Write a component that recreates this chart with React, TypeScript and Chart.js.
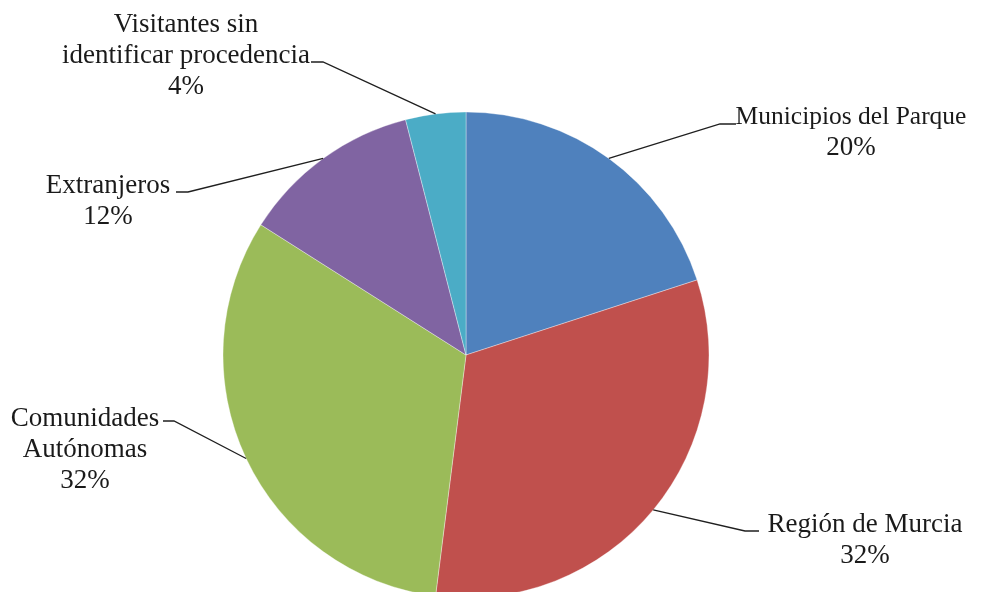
import React, { useEffect, useRef } from "react";
import { Chart, registerables } from "chart.js";

Chart.register(...registerables);

const categories = [
  "Municipios del Parque",
  "Región de Murcia",
  "Comunidades Autónomas",
  "Extranjeros",
  "Visitantes sin identificar procedencia",
];
const values = [20, 32, 32, 12, 4];
const labelLines = [
  ["Municipios del Parque", "20%"],
  ["Región de Murcia", "32%"],
  ["Comunidades", "Autónomas", "32%"],
  ["Extranjeros", "12%"],
  ["Visitantes sin", "identificar procedencia", "4%"],
];
const colors = ["#4F81BD", "#C0504D", "#9BBB59", "#8064A2", "#4BACC6"];

// label layout: text centre x, first baseline y, elbow point, horizontal end
const labelLayout = [
  { tx: 851, ty: 124, ex: 720, ey: 124, hx: 736 },
  { tx: 865, ty: 532, ex: 745, ey: 531, hx: 759 },
  { tx: 85, ty: 426, ex: 174, ey: 421, hx: 163 },
  { tx: 108, ty: 193, ex: 188, ey: 192, hx: 176 },
  { tx: 186, ty: 32, ex: 323, ey: 62, hx: 311 },
];

const leaderPlugin = {
  id: "leaderLabels",
  afterDatasetsDraw(chart: any) {
    const ctx = chart.ctx;
    const meta = chart.getDatasetMeta(0);
    ctx.save();
    ctx.fillStyle = "#1a1a1a";
    ctx.strokeStyle = "#1f1f1f";
    ctx.lineWidth = 1.3;
    ctx.textAlign = "center";
    ctx.textBaseline = "alphabetic";
    meta.data.forEach((arc: any, i: number) => {
      const p = arc.getProps(["x", "y", "startAngle", "endAngle", "outerRadius"], true);
      const mid = (p.startAngle + p.endAngle) / 2;
      const px = p.x + Math.cos(mid) * p.outerRadius;
      const py = p.y + Math.sin(mid) * p.outerRadius;
      const L = labelLayout[i];
      ctx.beginPath();
      ctx.moveTo(px, py);
      ctx.lineTo(L.ex, L.ey);
      ctx.lineTo(L.hx, L.ey);
      ctx.stroke();
      labelLines[i].forEach((t, j) => {
        ctx.font = i === 0 && j === 0 ? "25.5px 'Liberation Serif'" : "27px 'Liberation Serif'";
        ctx.fillText(t, L.tx, L.ty + j * 31);
      });
    });
    ctx.restore();
  },
};

export default function App() {
  const ref = useRef<HTMLCanvasElement>(null);
  useEffect(() => {
    document.body.style.margin = "0";
    const chart = new Chart(ref.current!, {
      type: "pie",
      data: {
        labels: categories,
        datasets: [
          {
            data: values,
            backgroundColor: colors,
            borderColor: "rgba(255,255,255,0.35)",
            borderWidth: 1,
          },
        ],
      },
      options: {
        responsive: false,
        animation: false,
        radius: 243,
        layout: { padding: { top: 118, bottom: 0, left: 0, right: 52 } },
        plugins: { legend: { display: false }, tooltip: { enabled: false } },
      } as any,
      plugins: [leaderPlugin],
    });
    return () => chart.destroy();
  }, []);
  return (
    <div style={{ position: "fixed", left: 0, top: 0, width: 984, height: 592, background: "#fff" }}>
      <canvas ref={ref} width={984} height={592} />
    </div>
  );
}
